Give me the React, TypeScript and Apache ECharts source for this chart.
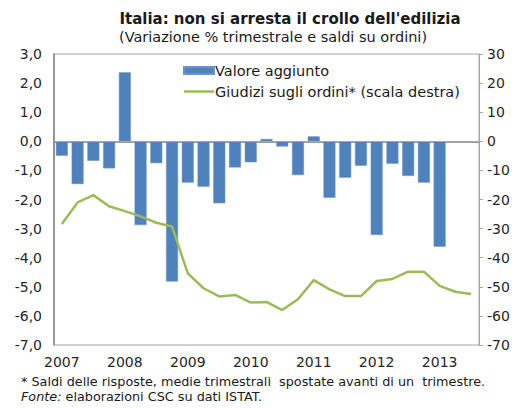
import React, { useEffect, useRef } from "react";
import * as echarts from "echarts";

const years = ["2007", "2008", "2009", "2010", "2011", "2012", "2013"];
const quarters = ["T1", "T2", "T3", "T4"];
const categories: string[] = [];
years.forEach((y) => quarters.forEach((q) => categories.push(y + " " + q)));
categories.splice(27);

const valoreAggiunto = [
  -0.5, -1.47, -0.67, -0.93,
  2.37, -2.88, -0.75, -4.82,
  -1.42, -1.56, -2.13, -0.9,
  -0.72, 0.08, -0.18, -1.16,
  0.17, -1.94, -1.25, -0.84,
  -3.22, -0.77, -1.19, -1.42,
  -3.62, null, null,
];

const giudiziOrdini = [
  -28.4, -21, -18.5, -22.3,
  -24, -25.8, -28, -29.3,
  -45.4, -50.5, -53.3, -52.8,
  -55.4, -55.2, -58, -54.3,
  -47.7, -50.9, -53.2, -53.2,
  -48, -47.3, -44.8, -44.8,
  -49.7, -51.7, -52.5,
];

const leftTicks = { min: -7, max: 3, interval: 1 };
const rightTicks = { min: -70, max: 30, interval: 10 };

const FONT = "'DejaVu Sans', sans-serif";

export default function App() {
  const ref = useRef<HTMLDivElement>(null);
  useEffect(() => {
    if (!ref.current) return;
    const chart = echarts.init(ref.current, null, { renderer: "svg" });
    chart.setOption({
      animation: false,
      backgroundColor: "#ffffff",
      textStyle: { fontFamily: FONT },
      title: [
        {
          text: "Italia: non si arresta il crollo dell'edilizia",
          left: 285,
          textAlign: "center",
          top: 6,
          textStyle: { fontFamily: FONT, fontSize: 15, fontWeight: "bold", color: "#1a1a1a" },
        },
        {
          text: "(Variazione % trimestrale e saldi su ordini)",
          left: 268,
          textAlign: "center",
          top: 24,
          textStyle: { fontFamily: FONT, fontSize: 14.5, fontWeight: "normal", color: "#1a1a1a" },
        },
      ],
      legend: {
        orient: "vertical",
        left: 178,
        top: 58,
        itemWidth: 30,
        itemHeight: 7,
        itemGap: 6,
        symbolKeepAspect: true,
        textStyle: { fontFamily: FONT, fontSize: 14.5, color: "#1a1a1a", padding: [0, 0, 0, -4] },
        data: [
          { name: "Valore aggiunto", icon: "rect" },
          { name: "Giudizi sugli ordini* (scala destra)", icon: "path://M0,0 H30 V2.5 H0 Z" },
        ],
      },
      grid: {
        left: 54,
        right: 49,
        top: 54,
        bottom: 64,
        show: true,
        borderColor: "#a6a6a6",
        borderWidth: 1,
      },
      xAxis: {
        type: "category",
        data: categories,
        boundaryGap: true,
        axisLine: { show: true, lineStyle: { color: "#7f7f7f", width: 1.5 } },
        axisTick: { show: false },
        axisLabel: {
          interval: 3,
          fontFamily: FONT,
          fontSize: 14,
          color: "#262626",
          margin: 10,
          formatter: (v: string) => v.split(" ")[0],
        },
        splitLine: { show: false },
      },
      yAxis: [
        {
          type: "value",
          min: leftTicks.min,
          max: leftTicks.max,
          interval: leftTicks.interval,
          position: "left",
          axisLine: { show: true, onZero: false, lineStyle: { color: "#7f7f7f", width: 1.5 } },
          axisTick: { show: false },
          splitLine: { show: false },
          axisLabel: {
            fontFamily: FONT,
            fontSize: 14,
            color: "#262626",
            margin: 12,
            formatter: (v: number) => v.toFixed(1).replace(".", ","),
          },
        },
        {
          type: "value",
          min: rightTicks.min,
          max: rightTicks.max,
          interval: rightTicks.interval,
          position: "right",
          axisLine: { show: true, onZero: false, lineStyle: { color: "#a6a6a6", width: 1 } },
          axisTick: { show: true, inside: false, length: 4, lineStyle: { color: "#a6a6a6" } },
          splitLine: { show: false },
          axisLabel: {
            fontFamily: FONT,
            fontSize: 14,
            color: "#262626",
            margin: 8,
            formatter: (v: number) => String(v),
          },
        },
      ],
      series: [
        {
          name: "Valore aggiunto",
          type: "bar",
          yAxisIndex: 0,
          data: valoreAggiunto,
          barCategoryGap: "24%",
          itemStyle: { color: "#4f81bd", borderColor: "#6b95c9", borderWidth: 0.5 },
          markLine: {
            silent: true,
            symbol: "none",
            label: { show: false },
            lineStyle: { color: "#a6a6a6", width: 1, type: "solid" },
            data: [{ yAxis: 0 }],
          },
          z: 2,
        },
        {
          name: "Giudizi sugli ordini* (scala destra)",
          type: "line",
          yAxisIndex: 1,
          data: giudiziOrdini,
          symbol: "none",
          lineStyle: { color: "#9bbb59", width: 2.5 },
          itemStyle: { color: "#9bbb59" },
          z: 3,
        },
      ],
      graphic: [
        {
          type: "text",
          left: 21,
          top: 375,
          style: {
            text: "* Saldi delle risposte, medie trimestrali  spostate avanti di un  trimestre.",
            fontFamily: FONT,
            fontSize: 12.8,
            fill: "#1a1a1a",
          },
        },
        {
          type: "text",
          left: 21,
          top: 390,
          style: {
            text: "{i|Fonte:} elaborazioni CSC su dati ISTAT.",
            fontFamily: FONT,
            fontSize: 12.8,
            fill: "#1a1a1a",
            rich: { i: { fontStyle: "italic", fontFamily: FONT, fontSize: 12.8, fill: "#1a1a1a" } },
          },
        },
      ],
    });
    return () => chart.dispose();
  }, []);
  return <div ref={ref} style={{ width: 528, height: 409, position: "absolute", left: 0, top: 0 }} />;
}
